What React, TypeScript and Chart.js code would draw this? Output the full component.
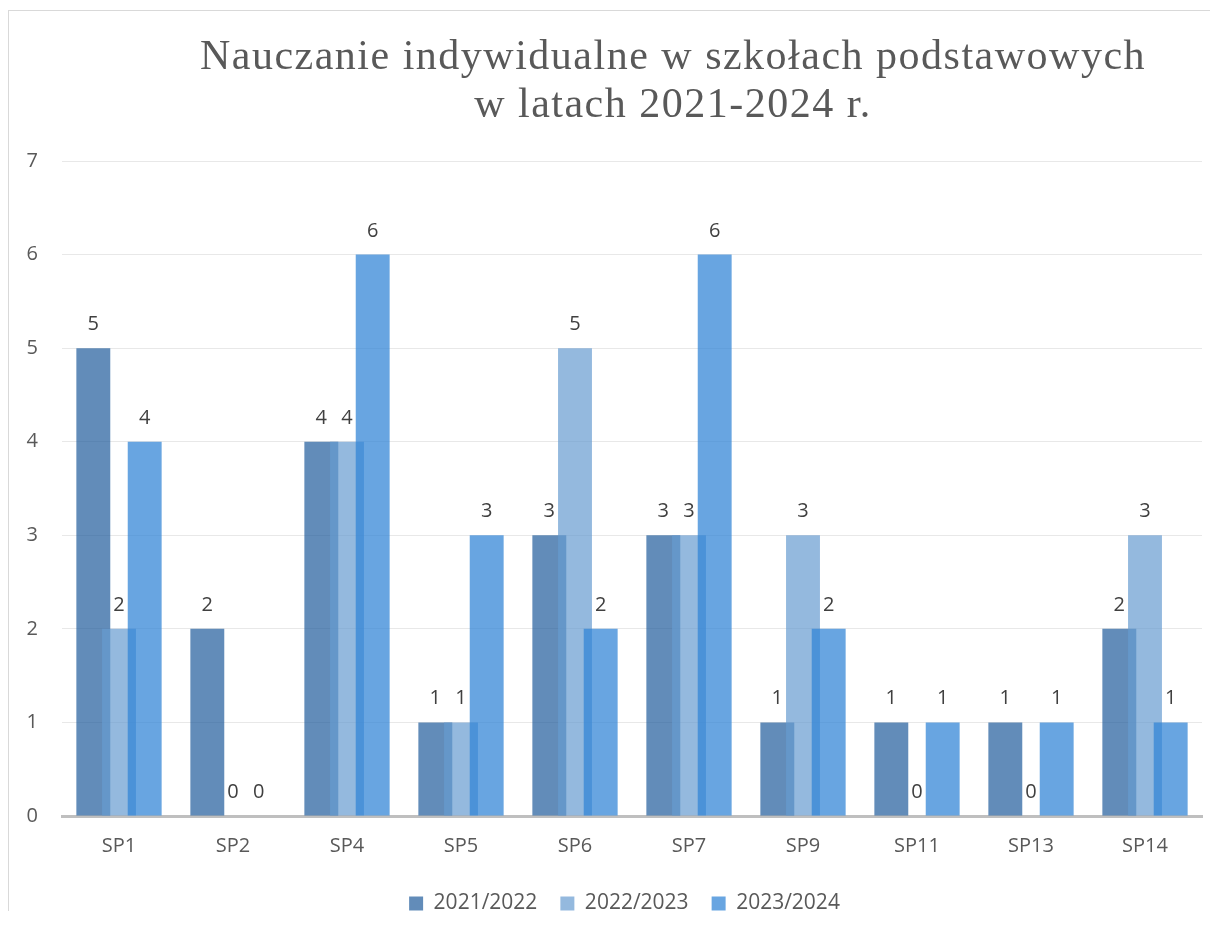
import React, { useEffect, useRef } from "react";
import { Chart, registerables } from "chart.js";

Chart.register(...registerables);

const categories = ["SP1", "SP2", "SP4", "SP5", "SP6", "SP7", "SP9", "SP11", "SP13", "SP14"];
const values2021 = [5, 2, 4, 1, 3, 3, 1, 1, 1, 2];
const values2022 = [2, 0, 4, 1, 5, 3, 3, 0, 0, 3];
const values2023 = [4, 0, 6, 3, 2, 6, 2, 1, 1, 1];
const seriesLabels = ["2021/2022", "2022/2023", "2023/2024"];
const titleLines = ["Nauczanie indywidualne w szkołach podstawowych", "w latach 2021-2024 r."];
const yMin = 0;
const yMax = 7;

const FONT = '"Open Sans", "Noto Sans", sans-serif';

const forwardDrawPlugin = {
  id: "forwardDraw",
  beforeDatasetsDraw(chart: any) {
    for (let i = 0; i < chart.data.datasets.length; i++) {
      const meta = chart.getDatasetMeta(i);
      if (!meta.hidden) meta.controller.draw();
    }
    return false;
  },
};

const legendShiftPlugin = {
  id: "legendShift",
  afterLayout(chart: any) {
    const lg = chart.legend;
    if (lg) {
      lg.left += 19;
      lg.right += 19;
      lg.top += 3;
      lg.bottom += 3;
    }
  },
};

const labelsAndTitlePlugin = {
  id: "labelsAndTitle",
  afterDraw(chart: any) {
    const ctx = chart.ctx;
    ctx.save();
    ctx.font = `20px ${FONT}`;
    ctx.fillStyle = "#404040";
    ctx.textAlign = "center";
    ctx.textBaseline = "alphabetic";
    chart.data.datasets.forEach((ds: any, i: number) => {
      const meta = chart.getDatasetMeta(i);
      meta.data.forEach((bar: any, j: number) => {
        ctx.fillText(String(ds.data[j]), bar.x, bar.y - 18);
      });
    });
    const area = chart.chartArea;
    const cx = (area.left + area.right) / 2 + 41;
    ctx.font = `42px "Liberation Serif", "Times New Roman", serif`;
    (ctx as any).letterSpacing = "1.5px";
    ctx.fillStyle = "#595959";
    titleLines.forEach((line, k) => {
      ctx.fillText(line, cx, 58 + k * 48);
    });
    ctx.restore();
  },
};

export default function App() {
  const ref = useRef<HTMLCanvasElement | null>(null);

  useEffect(() => {
    if (!ref.current) return;
    const chart = new Chart(ref.current, {
      type: "bar",
      data: {
        labels: categories,
        datasets: [
          { label: seriesLabels[0], data: values2021, backgroundColor: "rgba(31,91,155,0.7)" },
          { label: seriesLabels[1], data: values2022, backgroundColor: "rgba(102,155,208,0.7)" },
          { label: seriesLabels[2], data: values2023, backgroundColor: "rgba(48,132,214,0.73)" },
        ],
      },
      options: {
        animation: false,
        responsive: false,
        datasets: {
          bar: { categoryPercentage: 0.676, barPercentage: 1.32 },
        },
        layout: { padding: { top: 150, right: 7, left: 0, bottom: 0 } },
        plugins: {
          title: { display: false },
          tooltip: { enabled: false },
          legend: {
            position: "bottom",
            labels: {
              boxWidth: 14,
              boxHeight: 14,
              padding: 23,
              color: "#595959",
              font: { family: FONT, size: 21 },
            },
          },
        },
        scales: {
          x: {
            grid: { display: false, drawTicks: false },
            border: { display: true, color: "#bfbfbf", width: 3 },
            ticks: { color: "#595959", font: { family: FONT, size: 20 }, padding: 18 },
            afterFit: (s: any) => {
              s.height = 51;
            },
          },
          y: {
            min: yMin,
            max: yMax,
            grid: { color: "#e8e8e8", lineWidth: 1, drawTicks: false },
            border: { display: false },
            ticks: { stepSize: 1, color: "#595959", font: { family: FONT, size: 20 }, padding: 24 },
            afterFit: (s: any) => {
              s.width = 53;
            },
          },
        },
      },
      plugins: [forwardDrawPlugin, legendShiftPlugin, labelsAndTitlePlugin],
    } as any);
    return () => chart.destroy();
  }, []);

  return (
    <div
      style={{
        marginTop: 2,
        marginBottom: -20,
        borderLeft: "1px solid #d9d9d9",
        borderTop: "1px solid #d9d9d9",
        width: 1209,
        height: 920,
      }}
    >
      <canvas ref={ref} width={1200} height={910} style={{ display: "block", width: 1200, height: 910 }} />
    </div>
  );
}
